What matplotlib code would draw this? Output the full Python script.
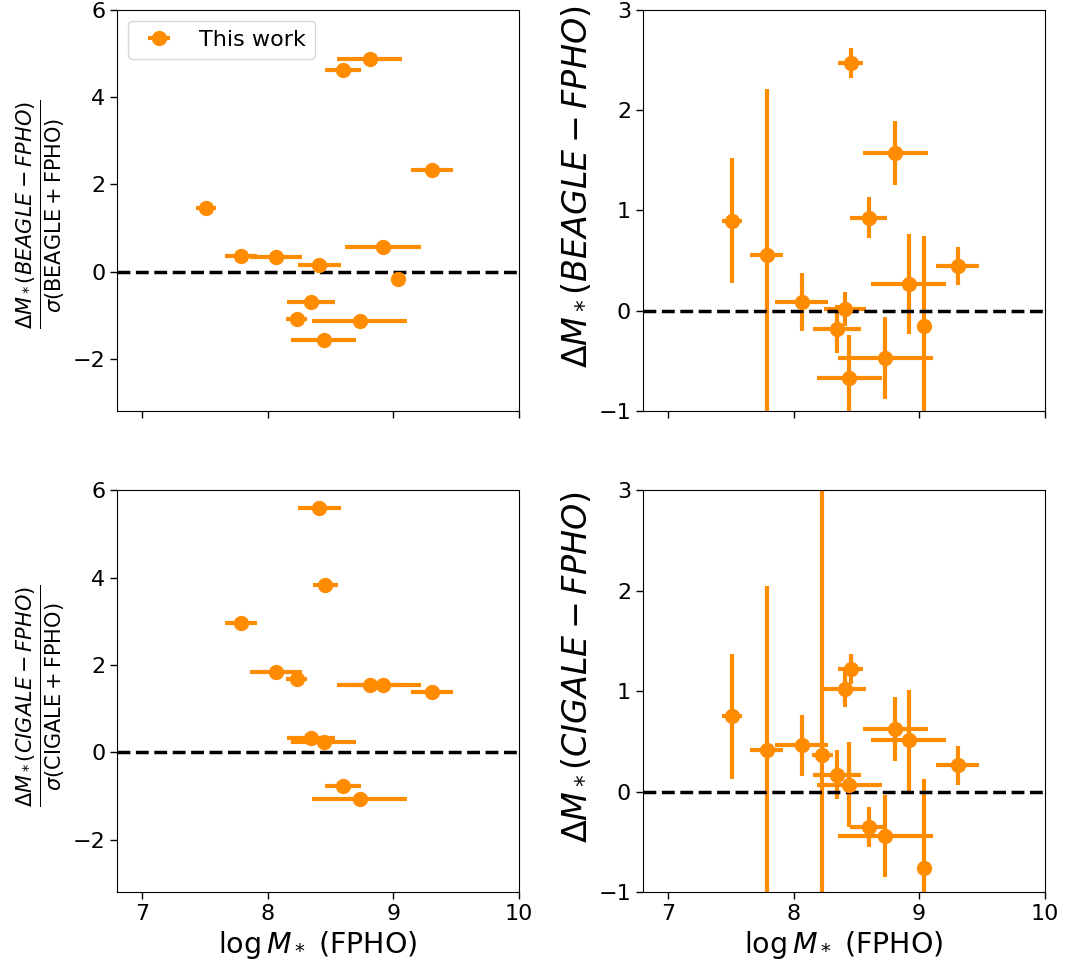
import numpy as np
import matplotlib
matplotlib.use("Agg")
import matplotlib.pyplot as plt

# log M* (FPHO) and its error for the 14 galaxies
logm_fpho = [7.51, 7.785, 8.065, 8.23, 8.345, 8.41, 8.445, 8.456, 8.597, 8.73, 8.81, 8.917, 9.04, 9.307]
logm_err = [0.08, 0.13, 0.21, 0.085, 0.19, 0.17, 0.26, 0.10, 0.145, 0.38, 0.26, 0.30, 0.0, 0.17]

# BEAGLE - FPHO
nan = np.nan
beagle_sig = [1.45, 0.35, 0.34, -1.08, -0.70, 0.145, -1.56, nan, 4.61, -1.14, 4.87, 0.556, -0.17, 2.32]
beagle_dm = [0.90, 0.56, 0.09, nan, -0.18, 0.02, -0.67, 2.47, 0.93, -0.47, 1.57, 0.27, -0.15, 0.45]
beagle_dm_err = [0.62, 1.65, 0.29, nan, 0.24, 0.17, 0.43, 0.15, 0.20, 0.405, 0.32, 0.50, 0.90, 0.19]

# CIGALE - FPHO
cigale_sig = [nan, 2.97, 1.85, 1.67, 0.335, 5.60, 0.23, 3.84, -0.78, -1.07, 1.55, 1.55, nan, 1.39]
cigale_dm = [0.75, 0.41, 0.46, 0.36, 0.17, 1.02, 0.07, 1.22, -0.35, -0.44, 0.62, 0.51, -0.76, 0.26]
cigale_dm_err = [0.62, 1.64, 0.30, 3.0, 0.24, 0.18, 0.42, 0.15, 0.20, 0.41, 0.32, 0.50, 0.89, 0.19]

color = 'darkorange'
style = dict(fmt='o', color=color, ms=10, elinewidth=3, capsize=0)

fig, axes = plt.subplots(2, 2, figsize=(10.65, 9.71), dpi=100, sharex=True)
fig.subplots_adjust(left=0.11, right=0.981, top=0.990, bottom=0.0814,
                    wspace=0.308, hspace=0.197)

ax = axes[0, 0]
ax.errorbar(logm_fpho, beagle_sig, xerr=logm_err, label='This work', **style)
ax.axhline(0, color='k', ls='--', lw=2.5)
ax.set_ylim(-3.2, 6)
ax.set_ylabel(r'$\frac{\Delta M_*(BEAGLE-FPHO)}{\sigma(\mathrm{BEAGLE+FPHO})}$', fontsize=21.5)
ax.legend(loc='upper left', fontsize=16)

ax = axes[0, 1]
ax.errorbar(logm_fpho, beagle_dm, xerr=logm_err, yerr=beagle_dm_err, **style)
ax.axhline(0, color='k', ls='--', lw=2.5)
ax.set_ylim(-1, 3)
ax.set_ylabel(r'$\Delta M_*(BEAGLE-FPHO)$', fontsize=24)

ax = axes[1, 0]
ax.errorbar(logm_fpho, cigale_sig, xerr=logm_err, **style)
ax.axhline(0, color='k', ls='--', lw=2.5)
ax.set_ylim(-3.2, 6)
ax.set_ylabel(r'$\frac{\Delta M_*(CIGALE-FPHO)}{\sigma(\mathrm{CIGALE+FPHO})}$', fontsize=21.5)

ax = axes[1, 1]
ax.errorbar(logm_fpho, cigale_dm, xerr=logm_err, yerr=cigale_dm_err, **style)
ax.axhline(0, color='k', ls='--', lw=2.5)
ax.set_ylim(-1, 3)
ax.set_ylabel(r'$\Delta M_*(CIGALE-FPHO)$', fontsize=24)

for ax in axes[:, 0]:
    ax.yaxis.label.set_y(0.49)
for ax in axes[:, 1]:
    ax.set_yticks([-1, 0, 1, 2, 3])
    ax.yaxis.label.set_y(0.56)
for ax in axes.flat:
    ax.set_xlim(6.8, 10)
    ax.set_xticks([7, 8, 9, 10])
    ax.tick_params(labelsize=16, length=5, width=1)
for ax in axes[1]:
    ax.set_xlabel(r'$\log M_*$ (FPHO)', fontsize=20.5)

fig.savefig('out.png')
